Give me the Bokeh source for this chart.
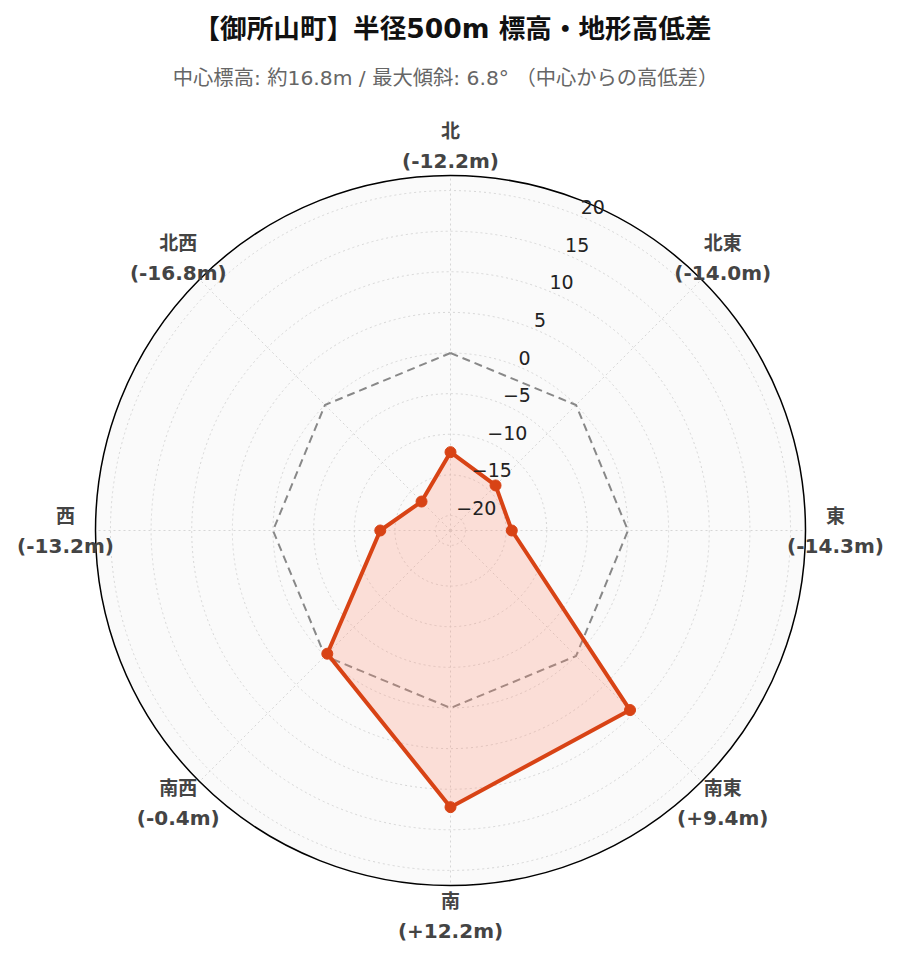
import math
from bokeh.plotting import figure
from bokeh.models import Range1d
from bokeh.core.properties import value
from bokeh.embed import file_html
from bokeh.resources import INLINE

# ---- data ----
directions = ["北", "北東", "東", "南東", "南", "南西", "西", "北西"]
angles_deg = [0, 45, 90, 135, 180, 225, 270, 315]
diffs = [-12.2, -14.0, -14.3, 9.4, 12.2, -0.4, -13.2, -16.8]
diff_labels = ["(-12.2m)", "(-14.0m)", "(-14.3m)", "(+9.4m)", "(+12.2m)", "(-0.4m)", "(-13.2m)", "(-16.8m)"]
radial_ticks = [-20, -15, -10, -5, 0, 5, 10, 15, 20]
radial_tick_labels = ["−20", "−15", "−10", "−5", "0", "5", "10", "15", "20"]
radial_min, radial_max = -21.84, 21.84

title_text = "【御所山町】半径500m 標高・地形高低差"
subtitle_text = "中心標高: 約16.8m / 最大傾斜: 6.8° （中心からの高低差）"

# ---- layout (pixel space) ----
W, H = 883, 946
CX, CY = 450, 530
R_OUT = 355
LABEL_R = 385
TICK_ANGLE = 22.5  # clockwise from north

FONT = "DejaVu Sans, Noto Sans CJK JP"


def rad(v):
    return (v - radial_min) / (radial_max - radial_min) * R_OUT


def pol(r, deg):
    a = math.radians(deg)
    return CX + r * math.sin(a), CY - r * math.cos(a)


p = figure(width=W, height=H, output_backend="svg", toolbar_location=None,
           x_range=Range1d(0, W), y_range=Range1d(H, 0),
           min_border=0, outline_line_color=None)
p.axis.visible = False
p.grid.visible = False
p.background_fill_color = "white"
p.border_fill_color = "white"

# polar background
p.circle(x=[CX], y=[CY], radius=R_OUT, fill_color="#fafafa", line_color=None)

# grid circles
p.circle(x=[CX] * len(radial_ticks), y=[CY] * len(radial_ticks),
         radius=[rad(v) for v in radial_ticks],
         fill_color=None, line_color="#d6d6d6", line_width=1, line_dash="2 3")

# spokes
sx, sy = zip(*[pol(R_OUT, a) for a in angles_deg])
p.segment(x0=[CX] * len(angles_deg), y0=[CY] * len(angles_deg), x1=list(sx), y1=list(sy),
          line_color="#d6d6d6", line_width=1, line_dash="2 3")

# zero reference octagon
zx, zy = zip(*[pol(rad(0), a) for a in angles_deg])
p.line(x=list(zx) + [zx[0]], y=list(zy) + [zy[0]], line_color="#888888",
       line_width=2, line_dash="8 5")

# data polygon
pts = [pol(rad(v), a) for v, a in zip(diffs, angles_deg)]
dx = [q[0] for q in pts]
dy = [q[1] for q in pts]
p.patch(x=dx, y=dy, fill_color=(255, 140, 110), fill_alpha=0.25, line_color=None)
p.line(x=dx + [dx[0]], y=dy + [dy[0]], line_color="#d84315", line_width=4, line_join="round")
p.scatter(x=dx, y=dy, size=11, fill_color="#d84315", line_color="#d84315")

# outer circle
p.circle(x=[CX], y=[CY], radius=R_OUT, fill_color=None, line_color="black", line_width=1.5)

# radial tick labels
tpos = [pol(rad(v), TICK_ANGLE) for v in radial_ticks]
p.text(x=[q[0] for q in tpos], y=[q[1] - 9 for q in tpos], text=radial_tick_labels,
       text_font=value(FONT), text_font_size="19px", text_color="#222222",
       text_align="left", text_baseline="middle")

# angular labels
lpos = [pol(LABEL_R, a) for a in angles_deg]
p.text(x=[q[0] for q in lpos], y=[q[1] - 15 for q in lpos], text=directions,
       text_font=value(FONT), text_font_size="19px", text_font_style="bold",
       text_color="#444444", text_align="center", text_baseline="middle")
p.text(x=[q[0] for q in lpos], y=[q[1] + 15 for q in lpos], text=diff_labels,
       text_font=value(FONT), text_font_size="20px", text_font_style="bold",
       text_color="#444444", text_align="center", text_baseline="middle")

# title & subtitle
p.text(x=[452], y=[28], text=[title_text], text_font=value(FONT), text_font_size="26.6px",
       text_font_style="bold", text_color="#111111", text_align="center", text_baseline="middle")
p.text(x=[445], y=[77], text=[subtitle_text], text_font=value(FONT), text_font_size="20.3px",
       text_color="#666666", text_align="center", text_baseline="middle")

open("out.html", "w").write(file_html(p, INLINE))
